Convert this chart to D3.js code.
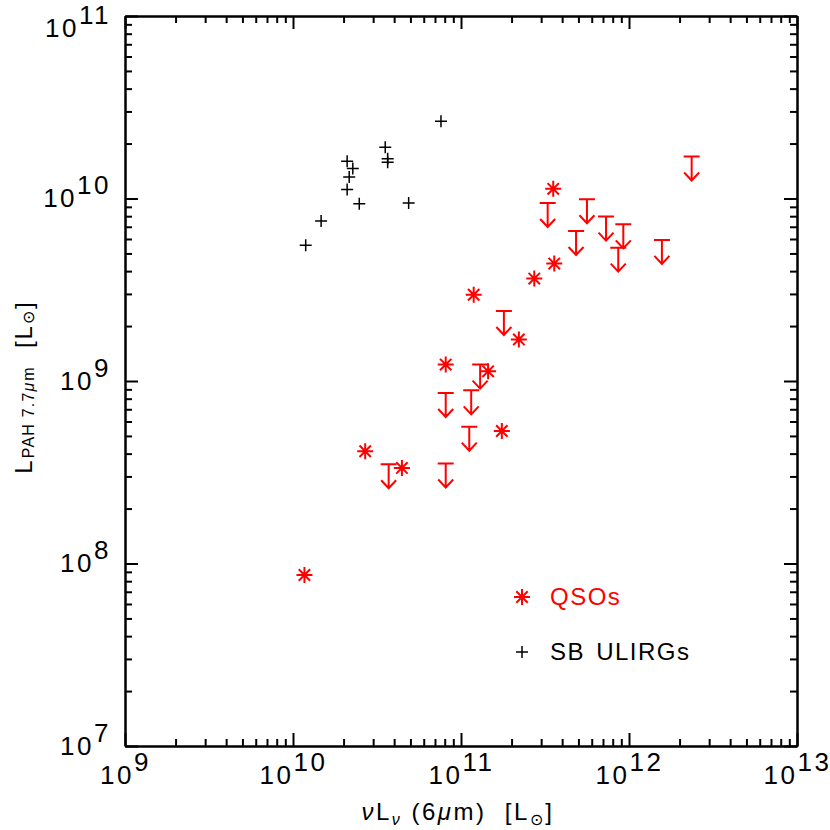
<!DOCTYPE html>
<html>
<head>
<meta charset="utf-8">
<script src="https://cdn.jsdelivr.net/npm/d3@7"></script>
<style>
  body { margin: 0; background: #fff; }
  text { font-family: "Liberation Sans", Arial, sans-serif; }
</style>
</head>
<body>
<div id="viz"></div>
<script>
// starburst ULIRGs (black plus signs)
const sbX = [7.6e10, 3.54e10, 3.66e10, 3.66e10, 2.10e10, 2.27e10, 2.16e10, 2.10e10, 2.48e10, 4.88e10, 1.47e10, 1.19e10];
const sbY = [2.65e10, 1.91e10, 1.65e10, 1.58e10, 1.60e10, 1.46e10, 1.31e10, 1.12e10, 9.37e9, 9.45e9, 7.53e9, 5.54e9];

// QSO detections (red asterisks)
const qsoX = [2.73e11, 1.19e11, 2.21e11, 8.11e10, 1.45e11, 1.75e11, 2.69e10, 4.45e10, 3.54e11, 3.59e11, 1.17e10];
const qsoY = [3.64e9, 2.97e9, 1.69e9, 1.23e9, 1.13e9, 5.32e8, 4.12e8, 3.34e8, 1.13e10, 4.40e9, 8.65e7];

// QSO upper limits (red arrows)
const limX = [3.28e11, 5.62e11, 4.84e11, 7.30e11, 9.25e11, 8.63e11, 1.57e12, 2.36e12, 1.80e11, 1.30e11, 8.11e10, 1.15e11, 1.12e11, 3.71e10, 8.11e10];
const limY = [9.45e9, 9.90e9, 6.64e9, 7.96e9, 7.22e9, 5.38e9, 5.93e9, 1.70e10, 2.42e9, 1.23e9, 8.59e8, 8.89e8, 5.62e8, 3.50e8, 3.53e8];

// axis ranges and major ticks
const xDomain = [1e9, 1e13];
const yDomain = [1e7, 1e11];
const xMajor = [1e9, 1e10, 1e11, 1e12, 1e13];
const yMajor = [1e7, 1e8, 1e9, 1e10, 1e11];

// dimensions and margin of the svg
const width = 830
const height = 830
const margin = {left: 125, top: 16, right: 33, bottom: 84}
const g_width = width - margin.left - margin.right;
const g_height = height - margin.top - margin.bottom;

const svgRoot = d3.select("#viz")
        .append("svg")
        .attr("width", width)
        .attr("height", height);

var svg = svgRoot.append("g")
        .attr("transform", "translate(" + margin.left + "," + margin.top + ")");

const x = d3.scaleLog().domain(xDomain).range([0, g_width]);
const y = d3.scaleLog().domain(yDomain).range([g_height, 0]);

const xMinor = x.ticks().filter(function(d) { return !xMajor.includes(d) });
const yMinor = y.ticks().filter(function(d) { return !yMajor.includes(d) });

const fontSize = 26;

function styleAxis(g) {
    g.select(".domain").attr("stroke", "black").attr("stroke-width", 2);
    g.selectAll(".tick line").attr("stroke", "black").attr("stroke-width", 2);
}

// label like 10^n with superscript
function powLabel(sel) {
    sel.text("10")
       .attr("fill", "black")
       .style("font-size", fontSize + "px")
       .style("letter-spacing", "2.5px")
       .append("tspan")
       .attr("dy", "-0.5em")
       .text(function(d) { return Math.round(Math.log10(d)) });
}

// bottom axis
svg.append("g")
    .attr("transform", "translate(0," + g_height + ")")
    .call(d3.axisBottom(x).tickValues(xMinor).tickSize(-7).tickSizeOuter(0).tickFormat(""))
    .call(styleAxis);
svg.append("g")
    .attr("transform", "translate(0," + g_height + ")")
    .call(d3.axisBottom(x).tickValues(xMajor).tickSize(-13).tickSizeOuter(0).tickPadding(20))
    .call(styleAxis)
    .selectAll(".tick text").call(powLabel);

// top axis (ticks only)
svg.append("g")
    .call(d3.axisTop(x).tickValues(xMinor).tickSize(-7).tickSizeOuter(0).tickFormat(""))
    .call(styleAxis);
svg.append("g")
    .call(d3.axisTop(x).tickValues(xMajor).tickSize(-13).tickSizeOuter(0).tickFormat(""))
    .call(styleAxis);

// left axis
svg.append("g")
    .call(d3.axisLeft(y).tickValues(yMinor).tickSize(-7).tickSizeOuter(0).tickFormat(""))
    .call(styleAxis);
const yAxisG = svg.append("g")
    .call(d3.axisLeft(y).tickValues(yMajor).tickSize(-13).tickSizeOuter(0).tickPadding(14))
    .call(styleAxis);
yAxisG.selectAll(".tick text").call(powLabel);
// top label pushed down so it stays on the page
yAxisG.selectAll(".tick text")
    .filter(function(d) { return d === yDomain[1] })
    .attr("y", 12);

// right axis (ticks only)
svg.append("g")
    .attr("transform", "translate(" + g_width + ",0)")
    .call(d3.axisRight(y).tickValues(yMinor).tickSize(-7).tickSizeOuter(0).tickFormat(""))
    .call(styleAxis);
svg.append("g")
    .attr("transform", "translate(" + g_width + ",0)")
    .call(d3.axisRight(y).tickValues(yMajor).tickSize(-13).tickSizeOuter(0).tickFormat(""))
    .call(styleAxis);

// symbol shapes
const asterisk = "M-8,0H8M0,-8V8M-5.7,-5.7L5.7,5.7M-5.7,5.7L5.7,-5.7";
const plus = "M-6,0H6M0,-6V6";
const limit = "M-8,0H8M0,0V24M-7.5,16L0,24L7.5,16";

// SB ULIRGs
svg.selectAll(".sb")
    .data(d3.range(sbX.length))
    .enter()
    .append("path")
    .attr("class", "sb")
    .attr("d", plus)
    .attr("transform", function(i) { return "translate(" + x(sbX[i]) + "," + y(sbY[i]) + ")" })
    .attr("fill", "none")
    .attr("stroke", "black")
    .attr("stroke-width", 1.5);

// QSO upper limits
svg.selectAll(".lim")
    .data(d3.range(limX.length))
    .enter()
    .append("path")
    .attr("class", "lim")
    .attr("d", limit)
    .attr("transform", function(i) { return "translate(" + x(limX[i]) + "," + y(limY[i]) + ")" })
    .attr("fill", "none")
    .attr("stroke", "#ff0000")
    .attr("stroke-width", 2);

// QSO detections
svg.selectAll(".qso")
    .data(d3.range(qsoX.length))
    .enter()
    .append("path")
    .attr("class", "qso")
    .attr("d", asterisk)
    .attr("transform", function(i) { return "translate(" + x(qsoX[i]) + "," + y(qsoY[i]) + ")" })
    .attr("fill", "none")
    .attr("stroke", "#ff0000")
    .attr("stroke-width", 2);

// legend
const legend = svgRoot.append("g");
legend.append("path")
    .attr("d", asterisk)
    .attr("transform", "translate(522,597)")
    .attr("fill", "none").attr("stroke", "#ff0000").attr("stroke-width", 2);
legend.append("text")
    .attr("x", 550).attr("y", 605)
    .style("font-size", "24px").style("letter-spacing", "1.5px").attr("fill", "#ff0000")
    .text("QSOs");
legend.append("path")
    .attr("d", plus)
    .attr("transform", "translate(522,652)")
    .attr("fill", "none").attr("stroke", "black").attr("stroke-width", 1.5);
legend.append("text")
    .attr("x", 550).attr("y", 660)
    .style("font-size", "24px").style("letter-spacing", "1.5px").style("word-spacing", "3px").attr("fill", "black")
    .text("SB ULIRGs");

// x label
const xl = svgRoot.append("text")
    .attr("x", 458).attr("y", 820)
    .attr("text-anchor", "middle")
    .style("font-size", "24px")
    .style("letter-spacing", "2.5px")
    .attr("xml:space", "preserve");
xl.append("tspan").style("font-style", "italic").text("\u03bd");
xl.append("tspan").text("L");
xl.append("tspan").attr("dy", 5).style("font-size", "16px").style("font-style", "italic").text("\u03bd");
xl.append("tspan").attr("dy", -5).text(" (6");
xl.append("tspan").style("font-style", "italic").text("\u03bc");
xl.append("tspan").text("m)  [L");
xl.append("tspan").attr("dy", 5).style("font-size", "16px").text("\u2299");
xl.append("tspan").attr("dy", -5).text("]");

// y label
const yl = svgRoot.append("text")
    .attr("transform", "translate(32,387)rotate(-90)")
    .attr("text-anchor", "middle")
    .style("font-size", "24px")
    .style("letter-spacing", "2px")
    .attr("xml:space", "preserve");
yl.append("tspan").text("L");
yl.append("tspan").attr("dy", 2).style("font-size", "16px").style("letter-spacing", "1.2px").text("PAH 7.7");
yl.append("tspan").style("font-size", "16px").style("font-style", "italic").text("\u03bc");
yl.append("tspan").style("font-size", "16px").text("m");
yl.append("tspan").attr("dy", -2).text("  [L");
yl.append("tspan").attr("dy", 2).style("font-size", "16px").text("\u2299");
yl.append("tspan").attr("dy", -2).text("]");
</script>
</body>
</html>
